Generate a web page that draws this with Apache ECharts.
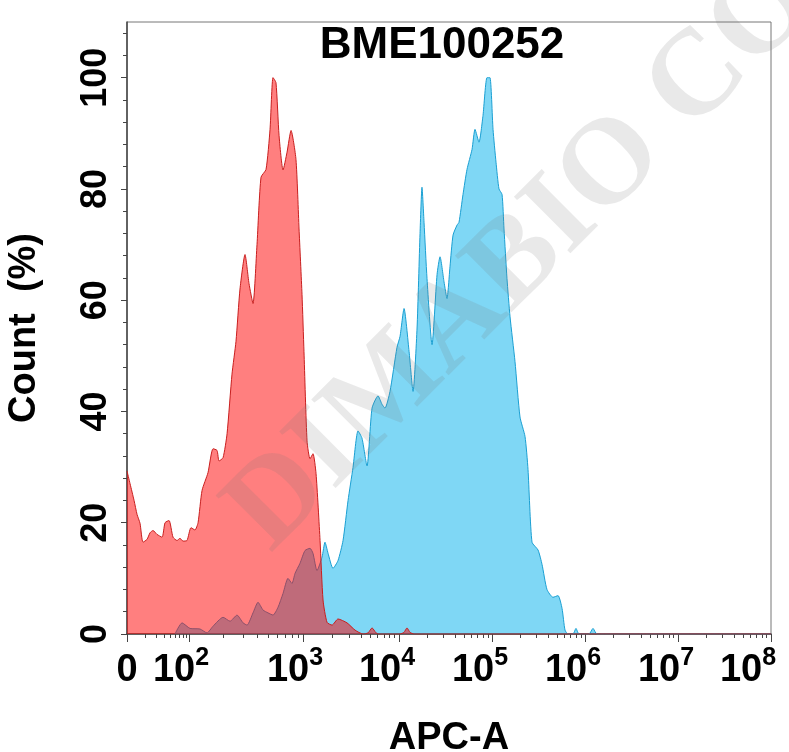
<!DOCTYPE html>
<html><head><meta charset="utf-8">
<script src="https://cdn.jsdelivr.net/npm/echarts@6/dist/echarts.min.js"></script>
<style>html,body{margin:0;padding:0;background:#fff}#c{width:789px;height:752px}</style>
</head><body><div id="c"></div>
<script>
const TITLE = 'BME100252';
const X_NAME = 'APC-A';
const Y_NAME = 'Count  (%)';
// display positions (decades) of the biexponential APC-A axis ticks
const X_TICK_POS = [1.075, 1.742, 2.968, 4.0, 5.0, 6.0, 7.0, 8.0];
const X_TICK_LABELS = ['0', '10^2', '10^3', '10^4', '10^5', '10^6', '10^7', '10^8'];
const Y_TICKS = [0, 20, 40, 60, 80, 100];

// isotype control (red)
const RED_X = [1.075,1.108,1.151,1.183,1.215,1.247,1.290,1.323,1.355,1.398,1.452,1.484,1.527,1.570,1.613,1.645,1.677,1.720,1.763,1.806,1.839,1.882,1.946,2.000,2.043,2.065,2.108,2.151,2.204,2.247,2.290,2.344,2.387,2.430,2.473,2.516,2.570,2.613,2.645,2.677,2.710,2.753,2.796,2.839,2.892,2.925,2.957,2.978,3.011,3.043,3.075,3.108,3.151,3.183,3.226,3.280,3.344,3.441,3.527,3.613,3.667,3.710,3.753,3.785,4.011,4.054,4.086,4.118,4.161,8.0];
const RED_Y = [29.3,27.0,24.0,21.5,19.9,16.5,17.0,18.2,18.6,17.9,17.4,20.0,20.4,17.4,16.8,17.2,16.7,16.8,19.1,18.7,20.0,25.8,29.0,33.3,33.0,31.1,31.7,36.0,46.7,52.6,62.0,68.2,63.0,59.4,70.0,82.1,83.5,90.7,100,99.1,89.6,83.4,86.6,90.5,85.3,72.8,61.0,50.8,34.7,31.5,32.4,28.8,16.8,6.1,2.1,1.6,2.7,2.0,0.7,0,0.2,1.1,0.2,0,0,0.3,1.1,0.3,0,0];

// BME100252 stained (blue)
const BLUE_X = [1.591,1.667,1.753,1.860,1.935,2.000,2.108,2.183,2.258,2.323,2.366,2.430,2.484,2.538,2.591,2.645,2.699,2.753,2.806,2.849,2.882,2.935,2.989,3.043,3.075,3.118,3.172,3.204,3.237,3.290,3.344,3.398,3.452,3.505,3.559,3.602,3.656,3.710,3.774,3.817,3.849,3.903,3.978,4.011,4.054,4.108,4.151,4.194,4.226,4.247,4.269,4.301,4.355,4.409,4.441,4.484,4.516,4.548,4.581,4.624,4.645,4.688,4.731,4.785,4.817,4.860,4.903,4.946,4.978,5.011,5.043,5.075,5.108,5.129,5.161,5.194,5.247,5.301,5.355,5.387,5.430,5.495,5.538,5.591,5.656,5.710,5.753,5.785,5.817,5.871,5.903,5.935,6.043,6.086,6.129,8.0];
const BLUE_Y = [0,2.0,1.0,0.9,0.2,1.4,3.0,2.3,3.4,2.0,1.6,3.8,5.7,4.3,3.8,3.4,4.8,7.3,10.0,9.1,10.9,12.7,15.0,15.4,14.5,11.4,13.8,16.5,14.5,11.8,13.2,16.8,24.0,29.9,36.5,35.2,30.2,40.6,42.8,41.3,40.6,43.6,51.5,53.5,58.5,50.8,43.6,55.0,72.0,80.3,74.0,63.9,52.0,64.6,67.8,63.3,60.3,66.0,71.7,73.5,74.0,79.0,83.5,87.1,90.7,88.4,93.2,100,100,90.7,84.8,80.0,79.0,72.8,63.9,57.0,49.0,39.0,35.5,29.6,16.5,15.1,12.5,8.0,6.6,6.9,4.6,0.7,0,0,1.0,0,0,1.0,0,0];

const FONT = "'Liberation Sans', Arial, sans-serif";
const NARROW = "'Liberation Sans Narrow', 'Arial Narrow', 'Liberation Sans', sans-serif";
const zip = (xs, ys) => xs.map((x, i) => [x, ys[i]]);

// minor ticks: 2..9 within each decade interval
const xMinor = [];
for (let i = 0; i < X_TICK_POS.length - 1; i++) {
  for (let m = 2; m <= 9; m++) {
    xMinor.push(X_TICK_POS[i] + Math.log10(m) * (X_TICK_POS[i + 1] - X_TICK_POS[i]));
  }
}
const yMinor = [];
for (let v = 4; v <= 108; v += 4) if (v % 20 !== 0) yMinor.push(v);

function xLabel(v) {
  let idx = 0, best = 1e9;
  X_TICK_POS.forEach((p, i) => { const d = Math.abs(p - v); if (d < best) { best = d; idx = i; } });
  const t = X_TICK_LABELS[idx];
  if (t.indexOf('^') < 0) return '{n|' + t + '}';
  const parts = t.split('^');
  let gap = '{g|}';
  if (idx <= 2) gap = '{g1|}';
  if (idx === X_TICK_LABELS.length - 1) gap = '{g2|}';
  return '{n|' + parts[0] + '}{s|' + parts[1] + '}' + gap;
}

const XMIN = X_TICK_POS[0], XMAX = X_TICK_POS[X_TICK_POS.length - 1];
const chart = echarts.init(document.getElementById('c'), null, {renderer: 'canvas'});
chart.setOption({
  animation: false,
  backgroundColor: '#fff',
  title: {
    text: TITLE, left: 437, top: 19, textAlign: 'center',
    textStyle: {fontFamily: FONT, fontWeight: 'bold', fontSize: 44, color: '#000'}
  },
  grid: {left: 127, right: 18, top: 22, bottom: 118, outerBoundsMode: 'none', containLabel: false,
    show: true, borderColor: '#777', borderWidth: 1, backgroundColor: 'transparent'},
  xAxis: [{
    type: 'value', min: XMIN, max: XMAX,
    name: X_NAME, nameLocation: 'middle', nameGap: 86,
    nameTextStyle: {fontFamily: FONT, fontWeight: 'bold', fontSize: 38, color: '#000'},
    axisLine: {show: true, lineStyle: {color: '#444', width: 1.5}},
    axisTick: {show: true, inside: false, length: 8, lineStyle: {color: '#444'}, customValues: X_TICK_POS},
    axisLabel: {
      show: true, margin: 12, customValues: X_TICK_POS, formatter: xLabel, color: '#000',
      rich: {
        n: {fontFamily: NARROW, fontWeight: 'bold', fontSize: 38, color: '#000', verticalAlign: 'bottom', lineHeight: 44},
        s: {fontFamily: NARROW, fontWeight: 'bold', fontSize: 25, color: '#000', verticalAlign: 'top', lineHeight: 44},
        g: {width: 24},
        g1: {width: 16},
        g2: {width: 46}
      }
    },
    splitLine: {show: false}
  }, {
    type: 'value', min: XMIN, max: XMAX, position: 'bottom', offset: 0,
    axisLine: {show: false},
    axisTick: {show: true, length: 4, lineStyle: {color: '#444'}, customValues: xMinor},
    axisLabel: {show: false},
    splitLine: {show: false}
  }],
  yAxis: [{
    type: 'value', min: 0, max: 110,
    name: Y_NAME, nameLocation: 'middle', nameGap: 83, nameRotate: 90,
    nameTextStyle: {fontFamily: FONT, fontWeight: 'bold', fontSize: 38, color: '#000'},
    axisLine: {show: true, lineStyle: {color: '#444', width: 1.5}},
    axisTick: {show: true, length: 6, lineStyle: {color: '#444'}, customValues: Y_TICKS},
    axisLabel: {show: true, rotate: 90, margin: 13, customValues: Y_TICKS, fontFamily: FONT, fontWeight: 'bold', fontSize: 36, color: '#000'},
    splitLine: {show: false}
  }, {
    type: 'value', min: 0, max: 110, position: 'left', offset: 0,
    axisLine: {show: false},
    axisTick: {show: true, length: 4, lineStyle: {color: '#444'}, customValues: yMinor},
    axisLabel: {show: false},
    splitLine: {show: false}
  }],
  graphic: [{
    type: 'text', x: 205, y: 488, rotation: Math.PI / 4, z: 100,
    style: {text: 'DIMABIO CO.', fontFamily: "'Liberation Serif', serif", fontWeight: 'bold', fontSize: 122, fill: 'rgba(120,120,120,0.16)'}
  }],
  series: [{
    name: 'BME100252', type: 'line', xAxisIndex: 0, yAxisIndex: 0,
    data: zip(BLUE_X, BLUE_Y), symbol: 'none', smooth: 0.2, z: 2,
    lineStyle: {color: '#1a9fd2', width: 1},
    areaStyle: {color: 'rgba(0,176,235,0.5)', opacity: 1}
  }, {
    name: 'Isotype', type: 'line', xAxisIndex: 0, yAxisIndex: 0,
    data: zip(RED_X, RED_Y), symbol: 'none', smooth: 0.2, z: 3,
    lineStyle: {color: '#c81e1e', width: 1},
    areaStyle: {color: 'rgba(255,0,0,0.5)', opacity: 1}
  }]
});
</script></body></html>
